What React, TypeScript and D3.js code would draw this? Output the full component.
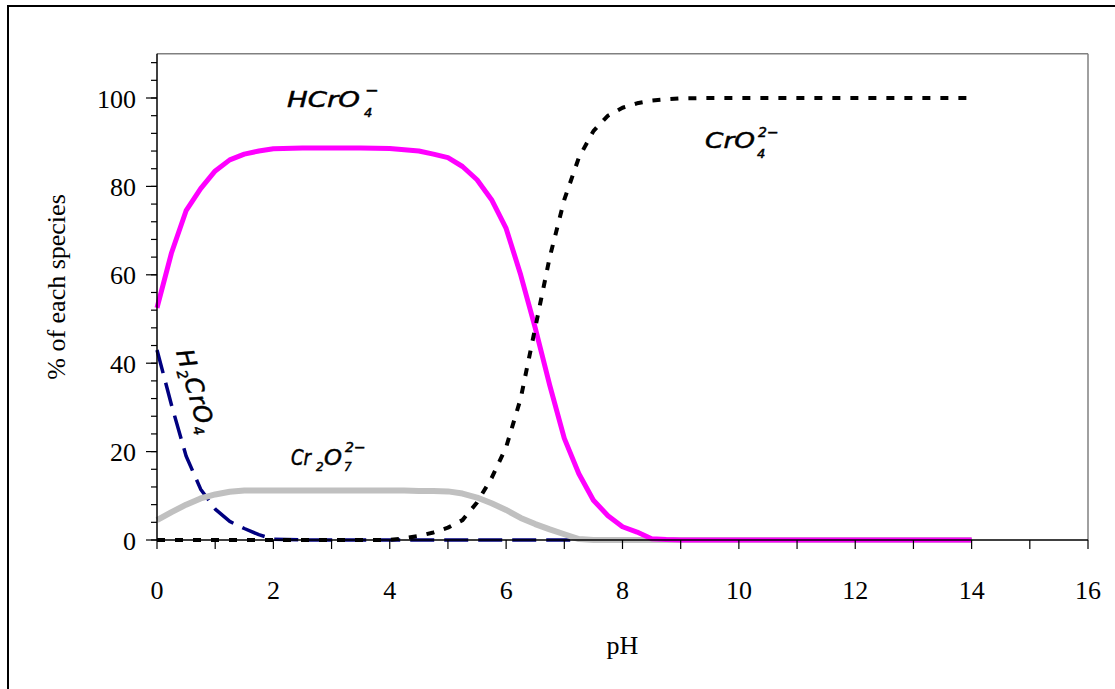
import React from "react";
import * as d3 from "d3";

// pH grid shared by all species
const PH = [0, 0.25, 0.5, 0.75, 1, 1.25, 1.5, 1.75, 2, 2.5, 3, 3.5, 4, 4.25, 4.5, 4.75, 5, 5.25, 5.5, 5.75, 6, 6.25, 6.5, 6.75, 7, 7.25, 7.5, 7.75, 8, 8.25, 8.5, 8.75, 9, 9.5, 10, 11, 12, 13, 14];

// % of each species
const H2CRO4 = [43, 30.5, 19, 11.5, 7, 4.2, 2.6, 1.2, 0.2, 0, 0, 0, 0, 0, 0, 0, 0, 0, 0, 0, 0, 0, 0, 0, 0, 0, 0, 0, 0, 0, 0, 0, 0, 0, 0, 0, 0, 0, 0];
const HCRO4 = [52.5, 65, 74.5, 79.5, 83.5, 86, 87.3, 88, 88.5, 88.7, 88.7, 88.7, 88.6, 88.3, 88, 87.3, 86.5, 84.5, 81.5, 77, 70.5, 60, 48, 35, 23, 15, 9, 5.5, 3, 1.8, 0.3, 0.1, 0, 0, 0, 0, 0, 0, 0];
const CR2O7 = [4.5, 6.3, 8, 9.4, 10.3, 10.9, 11.2, 11.2, 11.2, 11.2, 11.2, 11.2, 11.2, 11.2, 11.1, 11.1, 11, 10.5, 9.6, 8.3, 6.8, 5, 3.6, 2.4, 1.3, 0.2, 0, 0, 0, 0, 0, 0, 0, 0, 0, 0, 0, 0, 0];
const CRO4 = [0, 0, 0, 0, 0, 0, 0, 0, 0, 0, 0, 0, 0, 0.4, 0.9, 1.7, 2.8, 4.5, 8.5, 14, 21, 32, 48, 64, 77, 86.5, 92.5, 96, 97.8, 98.8, 99.4, 99.7, 99.9, 100, 100, 100, 100, 100, 100];

const X_TICKS = [0, 2, 4, 6, 8, 10, 12, 14, 16];
const X_MINOR = d3.range(0, 17, 1);
const Y_TICKS = [0, 20, 40, 60, 80, 100];
const Y_MINOR = d3.range(0, 110, 4);

const SERIES = [
  { name: "H2CrO4", values: H2CRO4, color: "#000080", width: 3.5, dash: "24,10" },
  { name: "Cr2O72-", values: CR2O7, color: "#C0C0C0", width: 6, dash: "" },
  { name: "HCrO4-", values: HCRO4, color: "#FF00FF", width: 5, dash: "" },
  { name: "CrO42-", values: CRO4, color: "#000000", width: 4, dash: "8,10" },
];

export default function App() {
  const x = d3.scaleLinear().domain([0, 16]).range([157, 1088]);
  const y = d3.scaleLinear().domain([0, 110]).range([540, 53.8]);
  const line = d3
    .line<[number, number]>()
    .x((d) => x(d[0]))
    .y((d) => y(d[1]));

  const serif = "'Liberation Serif', 'Times New Roman', serif";
  const lab = "'DejaVu Sans', sans-serif";

  return (
    <svg
      width={1115}
      height={689}
      style={{ position: "absolute", left: 0, top: 0, background: "#fff" }}
    >
      <rect x={0} y={0} width={1115} height={689} fill="#fff" />
      <rect x={8} y={6} width={1130} height={720} fill="none" stroke="#000" strokeWidth={2} />

      {/* plot frame */}
      <line x1={x(0)} x2={x(16)} y1={y(110)} y2={y(110)} stroke="#808080" strokeWidth={1.5} />
      <line x1={x(16)} x2={x(16)} y1={y(110)} y2={y(0)} stroke="#808080" strokeWidth={1.5} />

      {/* series */}
      {SERIES.map((s) => (
        <path
          key={s.name}
          d={line(PH.map((p, i) => [p, s.values[i]] as [number, number])) || ""}
          fill="none"
          stroke={s.color}
          strokeWidth={s.width}
          strokeDasharray={s.dash || undefined}
          strokeLinejoin="round"
        />
      ))}

      {/* axes */}
      <line x1={x(0)} x2={x(0)} y1={y(110)} y2={y(0)} stroke="#000" strokeWidth={1.5} />
      <line x1={x(0)} x2={x(16)} y1={y(0)} y2={y(0)} stroke="#000" strokeWidth={1.5} />
      {X_MINOR.map((t) => (
        <line key={"xm" + t} x1={x(t)} x2={x(t)} y1={y(0)} y2={y(0) + 9} stroke="#000" strokeWidth={1.2} />
      ))}
      {Y_MINOR.map((t) => (
        <line key={"ym" + t} x1={x(0) - 6} x2={x(0)} y1={y(t)} y2={y(t)} stroke="#000" strokeWidth={1.2} />
      ))}
      {Y_TICKS.map((t) => (
        <line key={"yM" + t} x1={x(0) - 11} x2={x(0)} y1={y(t)} y2={y(t)} stroke="#000" strokeWidth={1.2} />
      ))}
      {X_TICKS.map((t) => (
        <text key={"xl" + t} x={x(t)} y={599} textAnchor="middle" fontFamily={serif} fontSize={26} fill="#000">
          {t}
        </text>
      ))}
      {Y_TICKS.map((t) => (
        <text key={"yl" + t} x={136} y={y(t) + 9.5} textAnchor="end" fontFamily={serif} fontSize={26} fill="#000">
          {t}
        </text>
      ))}
      <text x={x(8)} y={654} textAnchor="middle" fontFamily={serif} fontSize={26} fill="#000">
        pH
      </text>
      <text
        transform="translate(65,287) rotate(-90)"
        textAnchor="middle"
        fontFamily={serif}
        fontSize={26}
        fill="#000"
      >
        % of each species
      </text>

      {/* species labels */}
      <g fontFamily={lab} fontStyle="italic" fill="#000" stroke="#000" strokeWidth={0.5}>
        <text x={287} y={107} fontSize={22} textLength={73} lengthAdjust="spacingAndGlyphs">HCrO</text>
        <text x={364} y={117} fontSize={13}>4</text>
        <text x={365} y={96} fontSize={16}>−</text>

        <text x={291} y={465} fontSize={22} textLength={20} lengthAdjust="spacingAndGlyphs">Cr</text>
        <text x={316} y={471} fontSize={12}>2</text>
        <text x={324} y={465} fontSize={22} textLength={18} lengthAdjust="spacingAndGlyphs">O</text>
        <text x={344} y={471} fontSize={12}>7</text>
        <text x={345} y={452} fontSize={14}>2−</text>

        <text x={705} y={148} fontSize={22} textLength={50} lengthAdjust="spacingAndGlyphs">CrO</text>
        <text x={757} y={158} fontSize={13}>4</text>
        <text x={758} y={137} fontSize={14}>2−</text>

        <text transform="translate(176,352) rotate(74)" fontSize={24} letterSpacing={1}>
          H<tspan dy={5} fontSize={14}>2</tspan>
          <tspan dy={-5}>CrO</tspan>
          <tspan dy={5} fontSize={14}>4</tspan>
        </text>
      </g>
    </svg>
  );
}
